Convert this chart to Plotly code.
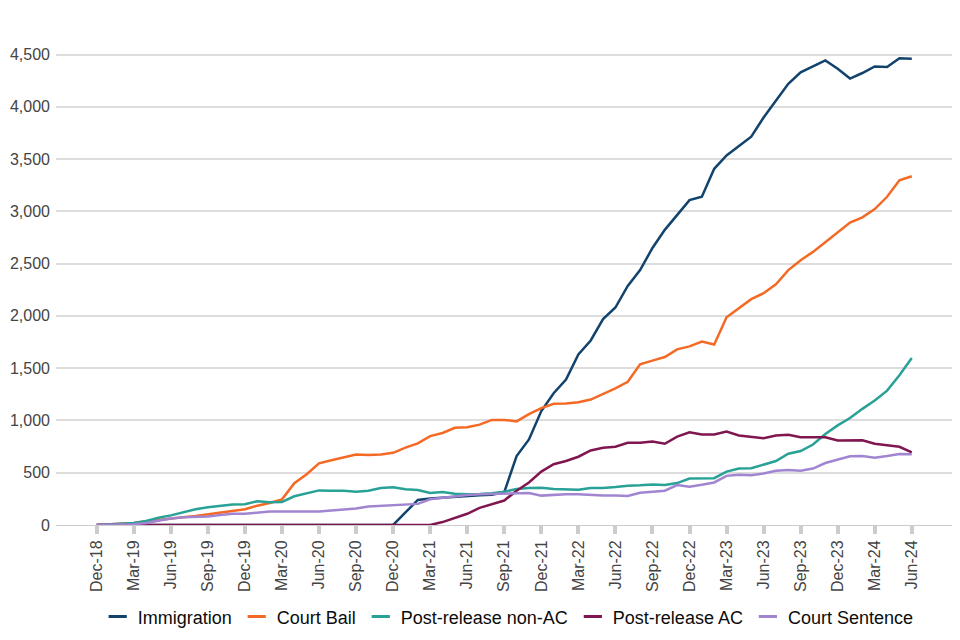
import plotly.graph_objects as go

months = [
    "Dec-18", "Jan-19", "Feb-19", "Mar-19", "Apr-19", "May-19", "Jun-19", "Jul-19", "Aug-19", "Sep-19", "Oct-19", "Nov-19",
    "Dec-19", "Jan-20", "Feb-20", "Mar-20", "Apr-20", "May-20", "Jun-20", "Jul-20", "Aug-20", "Sep-20", "Oct-20", "Nov-20",
    "Dec-20", "Jan-21", "Feb-21", "Mar-21", "Apr-21", "May-21", "Jun-21", "Jul-21", "Aug-21", "Sep-21", "Oct-21", "Nov-21",
    "Dec-21", "Jan-22", "Feb-22", "Mar-22", "Apr-22", "May-22", "Jun-22", "Jul-22", "Aug-22", "Sep-22", "Oct-22", "Nov-22",
    "Dec-22", "Jan-23", "Feb-23", "Mar-23", "Apr-23", "May-23", "Jun-23", "Jul-23", "Aug-23", "Sep-23", "Oct-23", "Nov-23",
    "Dec-23", "Jan-24", "Feb-24", "Mar-24", "Apr-24", "May-24", "Jun-24",
]

tick_labels = ["Dec-18", "Mar-19", "Jun-19", "Sep-19", "Dec-19", "Mar-20", "Jun-20", "Sep-20", "Dec-20",
               "Mar-21", "Jun-21", "Sep-21", "Dec-21", "Mar-22", "Jun-22", "Sep-22", "Dec-22", "Mar-23",
               "Jun-23", "Sep-23", "Dec-23", "Mar-24", "Jun-24"]

immigration = [
    0, 0, 0, 0, 0, 0, 0, 0, 0, 0, 0, 0,
    0, 0, 0, 0, 0, 0, 0, 0, 0, 0, 0, 0,
    0, 120, 240, 253, 262, 272, 278, 284, 290, 315, 660, 818,
    1090, 1260, 1392, 1632, 1765, 1970, 2080, 2286, 2438, 2650, 2823, 2965,
    3107, 3139, 3407, 3534, 3628, 3714, 3897, 4061, 4219, 4330, 4386, 4443,
    4364, 4270, 4323, 4386, 4380, 4465, 4459,
]

court_bail = [
    0, 5, 12, 20, 35, 50, 66, 75, 85, 100, 115, 130,
    150, 185, 210, 245, 400, 485, 590, 620, 650, 675, 670, 675,
    690, 740, 780, 850, 880, 930, 935, 960, 1005, 1005, 991, 1061,
    1118, 1159, 1162, 1174, 1200, 1253, 1307, 1370, 1537, 1572, 1607, 1680,
    1708, 1755, 1727, 1986, 2075, 2160, 2217, 2303, 2438, 2533, 2612, 2703,
    2798, 2893, 2943, 3022, 3139, 3297, 3335,
]

post_release_non_ac = [
    0, 5, 12, 20, 38, 70, 92, 123, 150, 170, 186, 196,
    199, 227, 218, 221, 275, 303, 331, 328, 328, 319, 328, 354,
    360, 341, 335, 306, 316, 300, 294, 297, 303, 319, 344, 354,
    357, 344, 344, 338, 354, 354, 363, 376, 379, 388, 382, 401,
    445, 445, 448, 511, 540, 543, 575, 612, 682, 707, 770, 871,
    953, 1023, 1111, 1190, 1285, 1433, 1597,
]

post_release_ac = [
    0, 0, 0, 0, 0, 0, 0, 0, 0, 0, 0, 0,
    0, 0, 0, 0, 0, 0, 0, 0, 0, 0, 0, 0,
    0, 0, 0, 0, 28, 66, 107, 164, 196, 234, 328, 407,
    511, 581, 612, 653, 713, 739, 748, 786, 786, 799, 777, 846,
    887, 865, 865, 893, 856, 840, 830, 856, 862, 840, 843, 840,
    808, 811, 811, 777, 761, 748, 695,
]

court_sentence = [
    0, 2, 5, 8, 19, 44, 63, 73, 76, 82, 95, 107,
    107, 117, 129, 129, 129, 123, 129, 139, 148, 158, 177, 183,
    193, 193, 202, 246, 262, 275, 287, 294, 297, 297, 297, 306,
    281, 290, 294, 294, 284, 281, 281, 278, 309, 319, 328, 382,
    366, 385, 407, 470, 480, 477, 492, 518, 527, 518, 540, 593,
    622, 657, 660, 644, 660, 679, 676,
]

series_names = ["Immigration", "Court Bail", "Post-release non-AC", "Post-release AC", "Court Sentence"]
series_values = [immigration, court_bail, post_release_non_ac, post_release_ac, court_sentence]
colors = ["#12436D", "#F46A25", "#28A197", "#801650", "#A285D1"]

fig = go.Figure()

for name, vals, col in zip(series_names, series_values, colors):
    fig.add_trace(go.Scatter(
        x=months, y=vals, mode="lines", name=name,
        line=dict(color=col, width=2.5), showlegend=False,
        hovertemplate="%{x}: %{y:,}<extra>" + name + "</extra>",
    ))

# legend entries with short line symbols
for name, col in zip(series_names, colors):
    fig.add_trace(go.Scatter(
        x=[None], y=[None], mode="markers", name=name,
        marker=dict(symbol="line-ew-open", size=13, color=col,
                    line=dict(color=col, width=3)),
        showlegend=True, hoverinfo="skip",
    ))

# page body has an 8px default margin, so the figure is sized/offset to compensate
fig.update_layout(
    width=952, height=632,
    margin=dict(l=48, r=5, t=12, b=110),
    paper_bgcolor="white", plot_bgcolor="white",
    font=dict(family="Liberation Sans, Arial, sans-serif", size=16, color="#444444"),
    showlegend=True,
    legend=dict(
        orientation="h", x=0.503, xanchor="center", y=-0.182, yanchor="middle",
        font=dict(size=18, color="#0b0c0c"), itemwidth=30,
        bgcolor="rgba(0,0,0,0)",
    ),
    hovermode="closest",
)

fig.update_xaxes(
    type="category",
    categoryorder="array", categoryarray=months,
    range=[-3.3, 69.5],
    tickmode="array", tickvals=tick_labels, ticktext=tick_labels,
    tickangle=-90,
    ticks="outside", ticklen=8, tickwidth=4, tickcolor="#cccccc",
    showline=True, linecolor="#cccccc", linewidth=1,
    showgrid=False, zeroline=False, automargin=False,
    tickfont=dict(size=16, color="#444444"),
)

fig.update_yaxes(
    range=[0, 4830],
    dtick=500, tick0=0,
    tickformat=",",
    showgrid=True, gridcolor="#dddddd", gridwidth=1.5,
    zeroline=False, showline=False, automargin=False,
    ticks="", ticklabelstandoff=5,
    tickfont=dict(size=16, color="#444444"),
)

fig.write_html("out.html")
